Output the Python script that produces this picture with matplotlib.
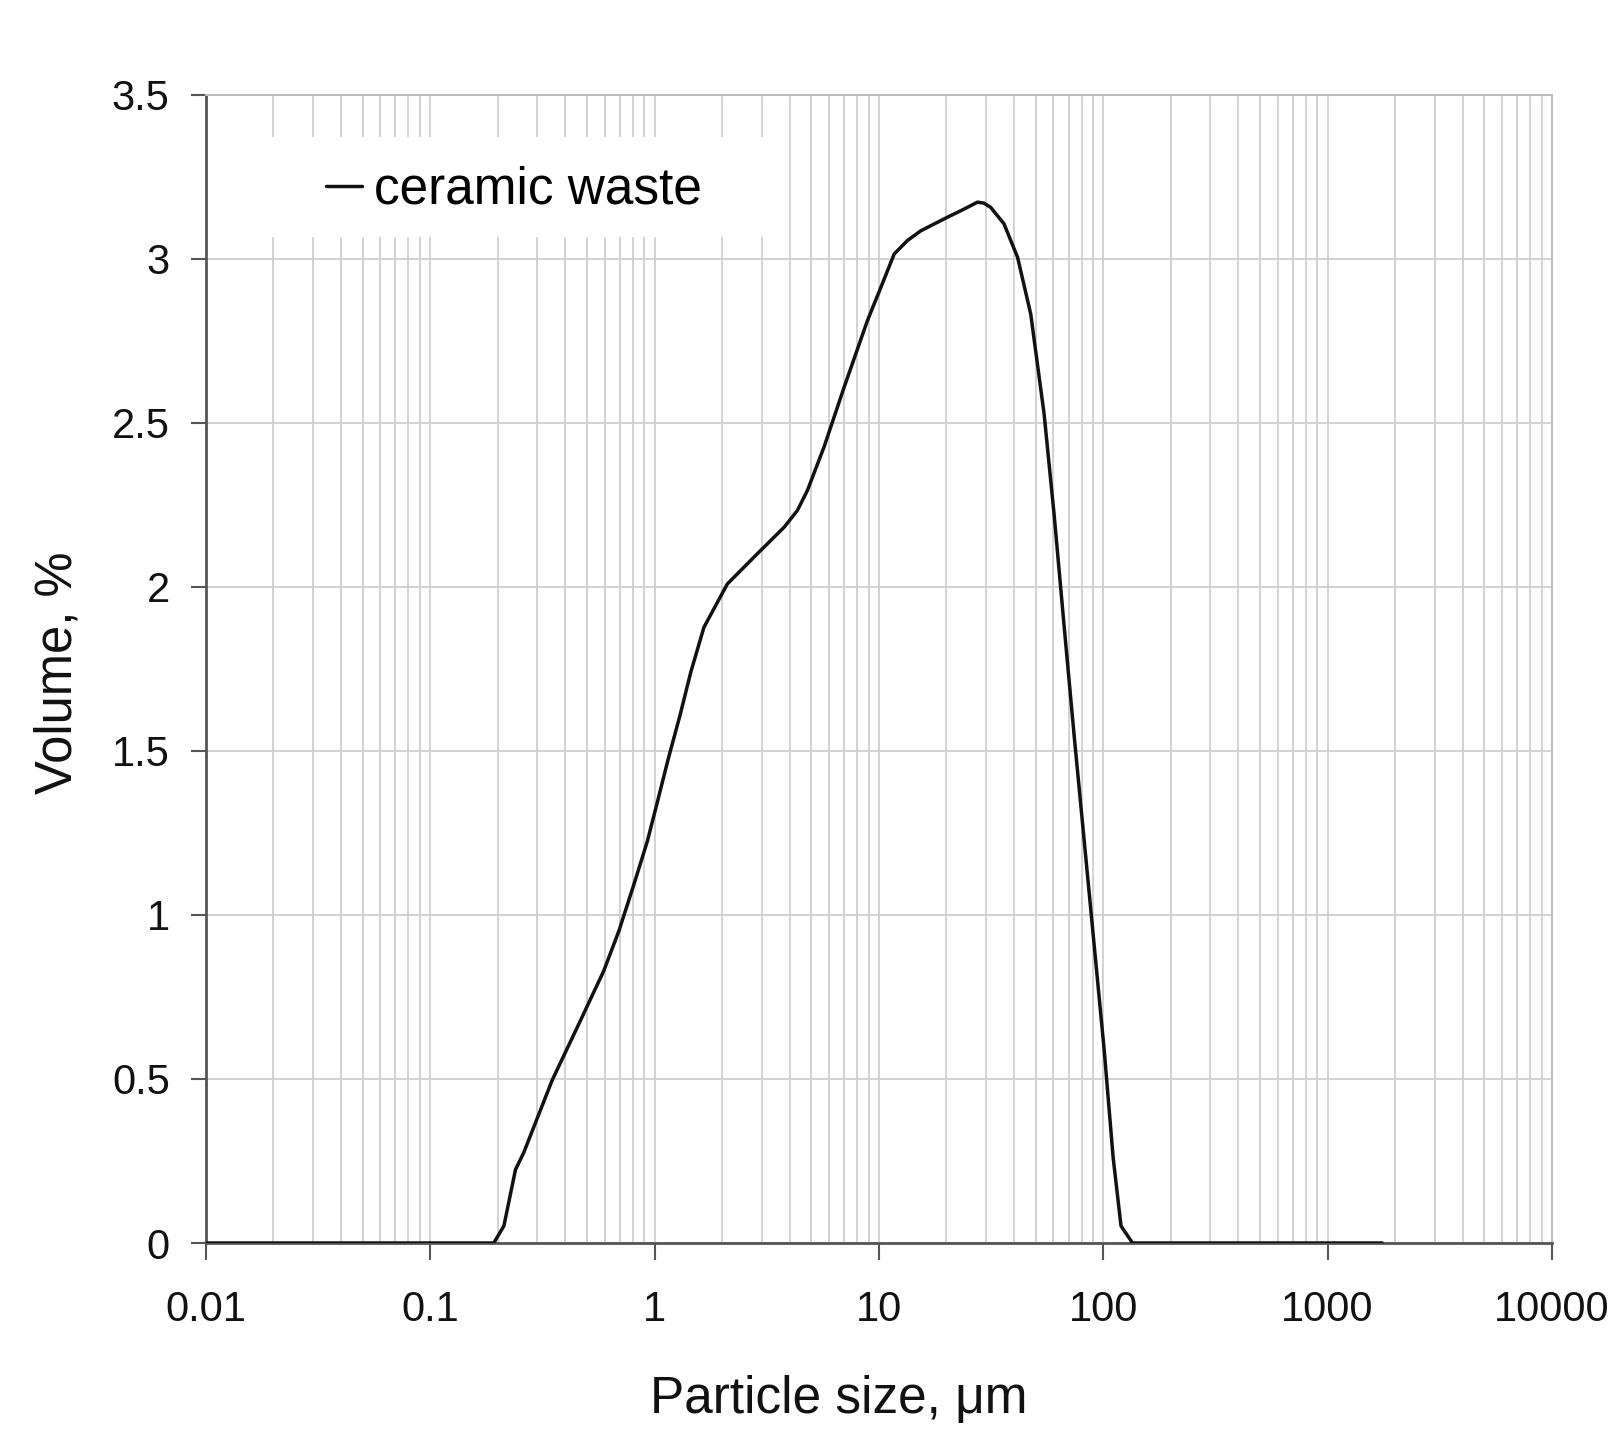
import matplotlib.pyplot as plt
from matplotlib.patches import Rectangle

# particle size distribution
size_um = [0.01, 0.192, 0.213, 0.240, 0.261, 0.350, 0.468, 0.594, 0.694, 0.809,
           0.928, 1.03, 1.15, 1.3, 1.45, 1.66, 2.11, 2.87, 3.78, 4.33, 4.80, 5.69,
           7.0, 8.89, 10.2, 11.7, 13.4, 15.4, 20.2, 24.0, 27.5, 29.4, 31.5, 36.1,
           41.5, 47.5, 54.5, 60.4, 67.0, 74.1, 85.1, 101, 110.7, 120, 135, 1750]
volume_pct = [0, 0, 0.052, 0.224, 0.275, 0.497, 0.679, 0.830, 0.952, 1.093,
              1.224, 1.345, 1.475, 1.61, 1.74, 1.877, 2.009, 2.101, 2.182, 2.233, 2.294, 2.426,
              2.609, 2.812, 2.913, 3.015, 3.056, 3.086, 3.127, 3.152, 3.173, 3.17, 3.157, 3.107,
              3.005, 2.832, 2.527, 2.22, 1.877, 1.55, 1.12, 0.587, 0.26, 0.052, 0, 0]

x_ticks = [0.01, 0.1, 1, 10, 100, 1000, 10000]
x_labels = ['0.01', '0.1', '1', '10', '100', '1000', '10000']
y_ticks = [0, 0.5, 1, 1.5, 2, 2.5, 3, 3.5]
y_labels = ['0', '0.5', '1', '1.5', '2', '2.5', '3', '3.5']

plt.rcParams['font.family'] = ['Liberation Sans', 'DejaVu Sans']

fig = plt.figure(figsize=(16.21, 14.42), dpi=100)
ax = fig.add_axes([0.127, 0.138, 0.8304, 0.7962])

ax.set_axisbelow(True)
ax.plot(size_um, volume_pct, color='#111111', lw=2.5, label='ceramic waste',
        solid_joinstyle='round', solid_capstyle='round', zorder=3)

ax.set_xscale('log')
ax.set_xlim(0.01, 10000)
ax.set_ylim(0, 3.5)
ax.set_xticks(x_ticks)
ax.set_xticklabels(x_labels)
ax.set_yticks(y_ticks)
ax.set_yticklabels(y_labels)
ax.xaxis.set_minor_formatter(plt.NullFormatter())

ax.grid(True, which='both', axis='x', color='#cfcfcf', lw=1.3)
ax.grid(True, which='major', axis='y', color='#cfcfcf', lw=1.3)

ax.tick_params(axis='both', which='major', labelsize=30, colors='#555555',
               labelcolor='#111111', width=1.5)
ax.tick_params(axis='y', length=11, pad=15)
ax.tick_params(axis='x', length=12, pad=22)
ax.tick_params(axis='x', which='minor', length=0)

for side in ['left', 'bottom']:
    ax.spines[side].set_color('#555555')
    ax.spines[side].set_linewidth(2)
for side in ['top', 'right']:
    ax.spines[side].set_color('#bbbbbb')
    ax.spines[side].set_linewidth(1.5)

# white box behind the legend hides the gridlines like the original
ax.add_patch(Rectangle((0.007, 0.876), 0.408, 0.087, transform=ax.transAxes,
                       facecolor='white', edgecolor='none', zorder=1))
ax.legend(loc='center left', bbox_to_anchor=(0.089, 0.917), frameon=False,
          fontsize=37, handlelength=0.7, handletextpad=0.25,
          borderpad=0, borderaxespad=0)

ax.set_xlabel('Particle size, \u03bcm', fontsize=37, color='#111111', va='center')
ax.xaxis.set_label_coords(0.47, -0.136)
ax.set_ylabel('Volume, %', fontsize=36.5, color='#111111', va='center')
ax.yaxis.set_label_coords(-0.110, 0.497)

fig.savefig('out.png', dpi=100)
